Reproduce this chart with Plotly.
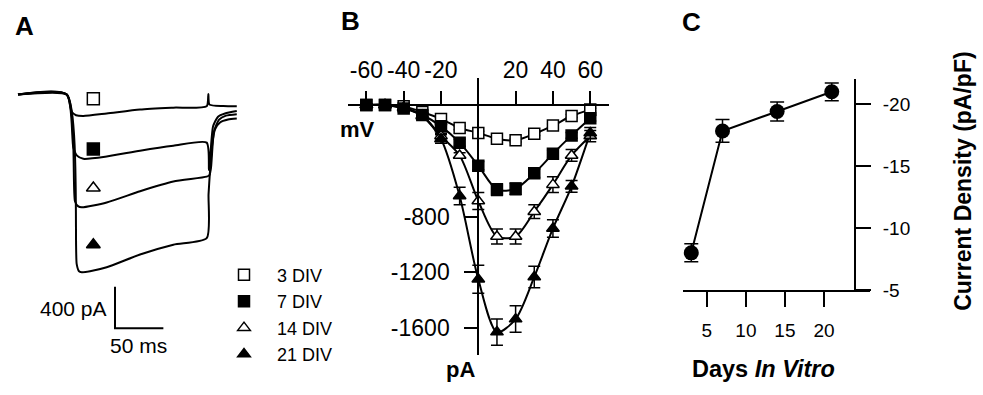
import plotly.graph_objects as go

W, H = 983, 395
FONT = "Liberation Sans, Arial, sans-serif"

# ---------------- Panel A: current traces (time in ms, current in pA) ----------------
trace3_t = [0, 50.4, 55.5, 60, 67.5, 91.7, 126.2, 160.6, 195.1, 196.8, 198.0, 212.3, 226.2]
trace3_i = [0, 0, -166, -199, -206, -182, -144, -126, -112, 6, -97, -110, -112]

trace7_t = [0, 50.4, 57.2, 61, 67.5, 91.7, 126.2, 160.6, 195.1, 197.5, 201.7, 206.8, 214, 226.2]
trace7_i = [0, 0, -510, -588, -619, -597, -541, -494, -463, -728, -306, -213, -182, -159]

trace14_t = [0, 50.4, 58.9, 62, 65.9, 91.7, 126.2, 160.6, 195.1, 198.0, 199.6, 202.7, 207.9, 215, 226.2]
trace14_i = [0, 0, -1028, -1075, -1087, -1040, -932, -838, -791, -775, -700, -353, -241, -203, -189]

trace21_t = [0, 50.4, 60.7, 63.1, 65.9, 74.5, 91.7, 126.2, 160.6, 195.1, 197.0, 198.6, 200.6, 203.7, 208.9, 217.2, 226.2]
trace21_i = [0, 0, -1634, -1703, -1712, -1703, -1665, -1541, -1447, -1384, -962, -728, -494, -335, -269, -241, -231]

label_t = [77.9, 77.9, 77.9, 77.9]
label_i = [-41, -525, -900, -1447]

scale_t0, scale_i0 = 100.3, -1853
scale_pa, scale_ms = 400, 50

# ---------------- Panel B: I-V relation ----------------
voltage_mv = [-60, -50, -40, -30, -20, -10, 0, 10, 20, 30, 40, 50, 60]
iv_3div = [0, 0, -10, -50, -100, -165, -200, -242, -253, -207, -148, -79, -33]
iv_7div = [0, 0, -26, -72, -153, -270, -435, -606, -601, -490, -350, -218, -95]
iv_14div = [0, 0, -20, -75, -223, -362, -688, -943, -943, -765, -571, -362, -223]
iv_21div = [0, 0, -20, -80, -244, -653, -1249, -1628, -1535, -1233, -885, -583, -200]
err_3div = [8, 8, 8, 10, 10, 12, 12, 12, 12, 12, 12, 10, 10]
err_7div = [8, 8, 10, 12, 20, 25, 30, 42, 42, 30, 25, 20, 20]
err_14div = [8, 8, 10, 15, 20, 20, 61, 54, 54, 49, 56, 42, 40]
err_21div = [8, 8, 10, 20, 30, 63, 100, 94, 95, 77, 63, 42, 38]

b_xticks = [-60, -40, -20, 20, 40, 60]
b_xticktext = ["-60", "-40", "-20", "20", "40", "60"]
b_yticks = [-1600, -1200, -800]
b_yticktext = ["-1600", "-1200", "-800"]

# ---------------- Panel C: current density vs days ----------------
days = [3, 7, 14, 21]
density = [-8.0, -17.84, -19.41, -21.0]
density_err = [0.73, 0.92, 0.76, 0.72]
c_xticks = [5, 10, 15, 20]
c_yticks = [-20, -15, -10, -5]
c_yticktext = ["-20", "-15", "-10", "-5"]


def fx(px):
    return px / W


def fy(py):
    return 1 - py / H


fig = go.Figure()

# Panel A traces
for tt, ii in [(trace3_t, trace3_i), (trace7_t, trace7_i), (trace14_t, trace14_i), (trace21_t, trace21_i)]:
    fig.add_trace(go.Scatter(x=tt, y=ii, mode="lines", xaxis="x", yaxis="y",
                             line=dict(color="black", width=2, shape="spline", smoothing=0.6),
                             showlegend=False, hoverinfo="skip"))

sym_fill = [("square", "white"), ("square", "black"), ("triangle-up", "white"), ("triangle-up", "black")]
for k in range(4):
    fig.add_trace(go.Scatter(x=[label_t[k]], y=[label_i[k]], mode="markers", xaxis="x", yaxis="y",
                             marker=dict(symbol=sym_fill[k][0], color=sym_fill[k][1], size=12,
                                         line=dict(color="black", width=1.5)),
                             showlegend=False, hoverinfo="skip"))

fig.add_trace(go.Scatter(x=[scale_t0, scale_t0, scale_t0 + scale_ms],
                         y=[scale_i0, scale_i0 - scale_pa, scale_i0 - scale_pa],
                         mode="lines", xaxis="x", yaxis="y",
                         line=dict(color="black", width=2), showlegend=False, hoverinfo="skip"))

# Panel B
series_b = [("3 DIV", iv_3div, err_3div), ("7 DIV", iv_7div, err_7div),
            ("14 DIV", iv_14div, err_14div), ("21 DIV", iv_21div, err_21div)]
for name, iv, er in series_b:
    fig.add_trace(go.Scatter(x=voltage_mv, y=iv, mode="lines", xaxis="x2", yaxis="y2",
                             line=dict(color="black", width=2, shape="spline", smoothing=0.8),
                             showlegend=False, hoverinfo="skip"))
for k, (name, iv, er) in enumerate(series_b):
    fig.add_trace(go.Scatter(x=voltage_mv, y=iv, mode="markers", xaxis="x2", yaxis="y2", name=name,
                             marker=dict(symbol=sym_fill[k][0], color=sym_fill[k][1], size=11,
                                         line=dict(color="black", width=1.5)),
                             error_y=dict(type="data", array=er, visible=True, color="black",
                                          thickness=1.5, width=6),
                             showlegend=True))

# Panel C
fig.add_trace(go.Scatter(x=days, y=density, mode="lines+markers", xaxis="x3", yaxis="y3",
                         line=dict(color="black", width=2),
                         marker=dict(symbol="circle", color="black", size=15),
                         error_y=dict(type="data", array=density_err, visible=True, color="black",
                                      thickness=1.5, width=7),
                         showlegend=False))

axis_common = dict(showgrid=False, zeroline=False, showline=True, linecolor="black", linewidth=2,
                   ticks="outside", tickcolor="black", tickwidth=2, tickangle=0)

fig.update_layout(
    width=W, height=H, margin=dict(l=0, r=0, t=0, b=0),
    paper_bgcolor="white", plot_bgcolor="rgba(0,0,0,0)",
    font=dict(family=FONT, color="black"),
    xaxis=dict(domain=[fx(0), fx(245)], range=[-18.6, 234.7], visible=False),
    yaxis=dict(domain=[fy(380), fy(60)], range=[-2649.5, 349.6], visible=False),
    xaxis2=dict(domain=[fx(347.7), fx(608.9)], range=[-70, 70], anchor="free", position=fy(108),
                side="top", tickvals=b_xticks, ticktext=b_xticktext, ticklen=13,
                tickfont=dict(size=23), ticklabelstandoff=4, **axis_common),
    yaxis2=dict(domain=[fy(365), fy(80)], range=[-1791, 195], anchor="free", position=fx(478.3),
                side="left", tickvals=b_yticks, ticktext=b_yticktext, ticklen=13,
                tickfont=dict(size=23), ticklabelstandoff=10, **axis_common),
    xaxis3=dict(domain=[fx(682.7), fx(870)], range=[1.9, 25.9], anchor="y3", side="bottom",
                tickvals=c_xticks, ticklen=15, tickfont=dict(size=19), ticklabelstandoff=7,
                **axis_common),
    yaxis3=dict(domain=[fy(298.3), fy(81.7)], range=[-5, -22], anchor="free", position=fx(855),
                side="right", tickvals=c_yticks, ticktext=c_yticktext, ticklen=15,
                tickfont=dict(size=19), ticklabelstandoff=8, **axis_common),
    legend=dict(x=fx(211), y=fy(264), xanchor="left", yanchor="top", font=dict(size=18),
                bgcolor="rgba(0,0,0,0)", tracegroupgap=0, itemwidth=56),
)

ann = [
    dict(text="<b>A</b>", x=fx(24), y=fy(26.5), size=26),
    dict(text="<b>B</b>", x=fx(350), y=fy(22), size=26),
    dict(text="<b>C</b>", x=fx(691), y=fy(22.5), size=26),
    dict(text="<b>mV</b>", x=fx(357.5), y=fy(133.5), size=22),
    dict(text="<b>pA</b>", x=fx(460), y=fy(380), size=22),
    dict(text="50 ms", x=fx(138), y=fy(355), size=21),
    dict(text="<b>Days <i>In Vitro</i></b>", x=fx(763), y=fy(380), size=23.5),
]
for a in ann:
    fig.add_annotation(text=a["text"], x=a["x"], y=a["y"], xref="paper", yref="paper",
                       xanchor="center", yanchor="middle", showarrow=False,
                       font=dict(size=a["size"], family=FONT, color="black"))
fig.add_annotation(text="400 pA", x=fx(108.5), y=fy(317), xref="paper", yref="paper",
                   xanchor="right", yanchor="middle", showarrow=False,
                   font=dict(size=21, family=FONT, color="black"))
fig.add_annotation(text="<b>Current Density (pA/pF)</b>", x=fx(963), y=fy(187), xref="paper",
                   yref="paper", xanchor="center", yanchor="middle", showarrow=False, textangle=-90,
                   font=dict(size=23, family=FONT, color="black"))

fig.write_html("out.html", config={"displayModeBar": False},
               post_script="document.body.style.margin='0';document.body.style.padding='0';")
